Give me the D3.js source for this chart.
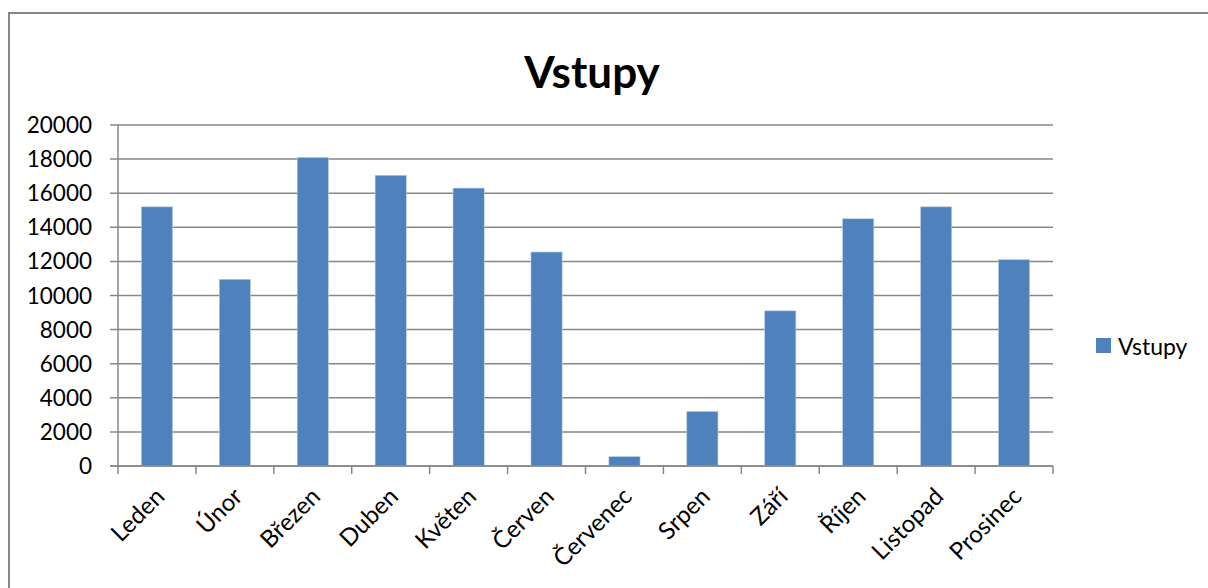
<!DOCTYPE html>
<html>
<head>
<meta charset="utf-8">
<script src="https://cdn.jsdelivr.net/npm/d3@7"></script>
<style>
  body { margin: 0; background: #fff; }
  svg { font-family: Lato, "Open Sans", sans-serif; }
</style>
</head>
<body>
<div id="chart"></div>
<script>
  const months = ["Leden", "Únor", "Březen", "Duben", "Květen", "Červen",
    "Červenec", "Srpen", "Září", "Říjen", "Listopad", "Prosinec"];
  const vstupy = [15200, 10950, 18100, 17050, 16300, 12550, 550, 3200, 9100, 14500, 15200, 12100];
  const yTicks = [0, 2000, 4000, 6000, 8000, 10000, 12000, 14000, 16000, 18000, 20000];
  const seriesName = "Vstupy";

  const width = 1208;
  const height = 588;
  const plot = { left: 118, right: 1053, top: 125, bottom: 466 };
  const barColor = "#4F81BD";
  const gridColor = "#878787";

  let svg = d3.select("#chart")
    .append("svg")
    .attr("width", width)
    .attr("height", height);

  // outer chart border (runs off the right and bottom edges)
  svg.append("rect")
    .attr("x", 9).attr("y", 13)
    .attr("width", 1210).attr("height", 590)
    .attr("fill", "none")
    .attr("stroke", "#868686")
    .attr("stroke-width", 2);

  let x = d3.scaleBand()
    .domain(months)
    .range([plot.left, plot.right])
    .paddingInner(0.6)
    .paddingOuter(0.3);

  let xEdge = d3.scaleLinear()
    .domain([0, months.length])
    .range([plot.left, plot.right]);

  let y = d3.scaleLinear()
    .domain([0, 20000])
    .range([plot.bottom, plot.top]);

  // gridlines
  svg.append("g")
    .selectAll("line")
    .data(yTicks)
    .enter()
    .append("line")
      .attr("x1", plot.left - 8)
      .attr("x2", plot.right)
      .attr("y1", d => y(d))
      .attr("y2", d => y(d))
      .attr("stroke", gridColor)
      .attr("stroke-width", 1.5);

  // y axis labels
  svg.append("g")
    .selectAll("text")
    .data(yTicks)
    .enter()
    .append("text")
      .attr("x", 92)
      .attr("y", d => y(d) + 8)
      .attr("text-anchor", "end")
      .attr("font-size", 22.5)
      .attr("fill", "#000")
      .text(d => d);

  // bars
  svg.append("g")
    .selectAll("rect")
    .data(vstupy)
    .enter()
    .append("rect")
      .attr("x", (d, i) => x(months[i]))
      .attr("y", d => y(d))
      .attr("width", x.bandwidth())
      .attr("height", d => y(0) - y(d))
      .attr("fill", barColor)
      .attr("stroke", "#b9cde5")
      .attr("stroke-width", 0.6);

  // axes lines
  svg.append("line")
    .attr("x1", plot.left).attr("x2", plot.left)
    .attr("y1", plot.top).attr("y2", plot.bottom)
    .attr("stroke", gridColor).attr("stroke-width", 1.5);

  svg.append("line")
    .attr("x1", plot.left - 8).attr("x2", plot.right)
    .attr("y1", plot.bottom).attr("y2", plot.bottom)
    .attr("stroke", gridColor).attr("stroke-width", 1.5);

  // x tick marks at category edges
  svg.append("g")
    .selectAll("line")
    .data(d3.range(months.length + 1))
    .enter()
    .append("line")
      .attr("x1", d => xEdge(d))
      .attr("x2", d => xEdge(d))
      .attr("y1", plot.bottom)
      .attr("y2", plot.bottom + 8)
      .attr("stroke", gridColor)
      .attr("stroke-width", 1.5);

  // rotated category labels
  svg.append("g")
    .selectAll("text")
    .data(months)
    .enter()
    .append("text")
      .attr("transform", d => `translate(${x(d) + x.bandwidth() / 2 + 9}, ${plot.bottom + 32}) rotate(-45)`)
      .attr("text-anchor", "end")
      .attr("font-size", 24)
      .attr("fill", "#000")
      .text(d => d);

  // title
  svg.append("text")
    .attr("x", 592)
    .attr("y", 88)
    .attr("text-anchor", "middle")
    .attr("font-size", 44)
    .attr("font-weight", "bold")
    .attr("fill", "#000")
    .text(seriesName);

  // legend
  let legend = svg.append("g");
  legend.append("rect")
    .attr("x", 1096).attr("y", 338)
    .attr("width", 15).attr("height", 15)
    .attr("fill", barColor);
  legend.append("text")
    .attr("x", 1118).attr("y", 355)
    .attr("font-size", 23)
    .attr("fill", "#000")
    .text(seriesName);
</script>
</body>
</html>
